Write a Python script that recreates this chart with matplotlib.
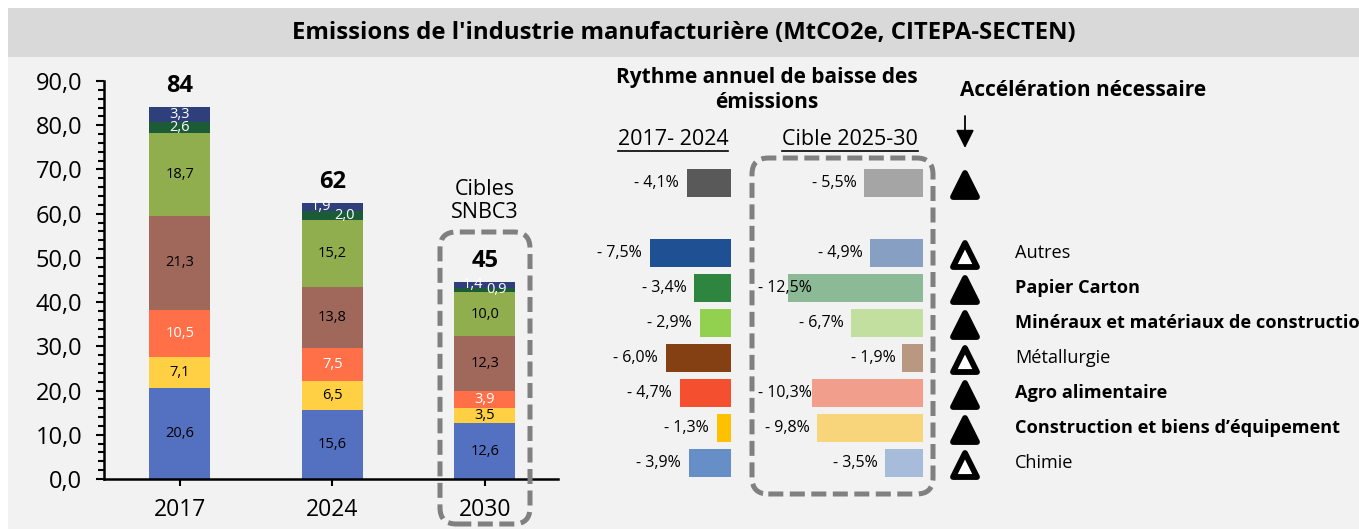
import matplotlib
matplotlib.use("Agg")
import matplotlib.pyplot as plt
from matplotlib.patches import Rectangle, FancyBboxPatch
from matplotlib.markers import MarkerStyle
from matplotlib.lines import Line2D
from matplotlib.ticker import MultipleLocator

plt.rcParams['font.family'] = ['Open Sans', 'DejaVu Sans']

W, H = 1359, 529

# --- stacked bars (MtCO2e) ---
years = ["2017", "2024", "2030"]
chimie = [20.6, 15.6, 12.6]
construction = [7.1, 6.5, 3.5]
agro = [10.5, 7.5, 3.9]
metallurgie = [21.3, 13.8, 12.3]
mineraux = [18.7, 15.2, 10.0]
papier = [2.6, 2.0, 0.9]
autres = [3.3, 1.9, 1.4]
totals = ["84", "62", "45"]
yticks = [0, 10, 20, 30, 40, 50, 60, 70, 80, 90]
ytick_labels = ["0,0", "10,0", "20,0", "30,0", "40,0", "50,0", "60,0", "70,0", "80,0", "90,0"]

stack = [chimie, construction, agro, metallurgie, mineraux, papier, autres]
stack_colors = ["#5470C0", "#FFD043", "#FF7049", "#A0685A", "#91AE4F", "#1B5C37", "#2E3F7B"]
stack_text = ["black", "black", "white", "black", "black", "white", "white"]

# --- annual rates of decrease (%), rows top to bottom ---
row_names = ["", "Autres", "Papier Carton", "Minéraux et matériaux de construction",
             "Métallurgie", "Agro alimentaire", "Construction et biens d’équipement", "Chimie"]
rate_2017_2024 = [4.1, 7.5, 3.4, 2.9, 6.0, 4.7, 1.3, 3.9]
rate_2025_2030 = [5.5, 4.9, 12.5, 6.7, 1.9, 10.3, 9.8, 3.5]
acceleration = [True, False, True, True, False, True, True, False]
row_pos = [0, 2, 3, 4, 5, 6, 7, 8]
colors_past = ["#595959", "#1F5093", "#2E8540", "#92D050", "#843F12", "#F4502F", "#FFC000", "#658FC6"]
colors_target = ["#A5A5A5", "#869FC3", "#8DBA96", "#C2DF9F", "#B89880", "#F29E8C", "#F8D57A", "#A7BCDB"]


def frac(x0, y0, x1, y1):
    # pixel box (top-left origin) -> figure fraction [l, b, w, h]
    return [x0 / W, 1 - y1 / H, (x1 - x0) / W, (y1 - y0) / H]


def fmt(v):
    return f"{v:.1f}".replace(".", ",")


fig = plt.figure(figsize=(W / 100, H / 100), dpi=100, facecolor="white")

# background panels
fig.patches.append(Rectangle((8 / W, 0), 1, 1 - 57 / H, transform=fig.transFigure,
                             facecolor="#F2F2F2", edgecolor="none", zorder=-2))
fig.patches.append(Rectangle((8 / W, 1 - 57 / H), 1, 49 / H, transform=fig.transFigure,
                             facecolor="#D9D9D9", edgecolor="none", zorder=-2))
fig.text(0.5 * (8 + W) / W, 1 - 33 / H,
         "Emissions de l'industrie manufacturière (MtCO2e, CITEPA-SECTEN)",
         ha="center", va="center", fontsize=17.2, fontweight="bold")

# ---------------- left : stacked bars ----------------
ax = fig.add_axes(frac(104, 81, 558, 479))
ax.set_facecolor("none")
x = list(range(len(years)))
bottom = [0.0] * len(years)
for k, (vals, col, tcol) in enumerate(zip(stack, stack_colors, stack_text)):
    ax.bar(x, vals, bottom=bottom, width=0.4, color=col, edgecolor="none", zorder=2)
    for i, v in enumerate(vals):
        dx = 0
        if v < 2.5 and k >= 5:
            dx = -12 if k == 6 else 12
        ax.annotate(fmt(v), (x[i], bottom[i] + v / 2), xytext=(dx, 0),
                    textcoords="offset pixels", ha="center", va="center",
                    fontsize=10.5, color=tcol, zorder=3)
    bottom = [b + v for b, v in zip(bottom, vals)]

for i, t in enumerate(totals):
    ax.annotate(t, (x[i], bottom[i]), xytext=(0, 21), textcoords="offset pixels",
                ha="center", va="center", fontsize=17, fontweight="bold")
ax.text(x[2], 62.8, "Cibles\nSNBC3", ha="center", va="center", fontsize=15.5,
        linespacing=1.15)

ax.set_xlim(-0.498, 2.479)
ax.set_ylim(0, 90)
ax.set_yticks(yticks)
ax.set_yticklabels(ytick_labels, fontsize=17)
ax.yaxis.set_minor_locator(MultipleLocator(2))
ax.set_xticks(x)
ax.set_xticklabels(years, fontsize=16.5)
ax.tick_params(axis="y", which="major", length=5.5, width=1.5, pad=10)
ax.tick_params(axis="y", which="minor", length=4, width=1.5)
ax.tick_params(axis="x", length=5, width=1.5, pad=9)
for s in ["top", "right"]:
    ax.spines[s].set_visible(False)
for s in ["left", "bottom"]:
    ax.spines[s].set_linewidth(1.8)

# ---------------- right : rates ----------------
px = 10.8            # pixels per percentage point
x0 = 560
anchor_px = 731
axr = fig.add_axes(frac(x0, 60, W, H))
axr.set_facecolor("none")
axr.set_xlim(-(anchor_px - x0) / px, (W - anchor_px) / px)
axr.set_ylim((H - 183) / 35, (60 - 183) / 35)
axr.axis("off")

R = (923 - anchor_px) / px      # anchor of the target bars
T = (965 - anchor_px) / px      # triangles
L = (1015 - anchor_px) / px     # sector names

axr.barh(row_pos, [-v for v in rate_2017_2024], left=0, height=0.8,
         color=colors_past, edgecolor="none")
axr.barh(row_pos, rate_2025_2030, left=[R - v for v in rate_2025_2030], height=0.8,
         color=colors_target, edgecolor="none")

for y, v in zip(row_pos, rate_2017_2024):
    axr.annotate(f"- {fmt(v)}%", (-v, y), xytext=(-8, 0), textcoords="offset pixels",
                 ha="right", va="center", fontsize=11.5)
for y, v in zip(row_pos, rate_2025_2030):
    if v >= 10:
        axr.text(R - 15.3, y, f"- {fmt(v)}%", ha="left", va="center", fontsize=11.5)
    else:
        axr.annotate(f"- {fmt(v)}%", (R - v, y), xytext=(-7, 0), textcoords="offset pixels",
                     ha="right", va="center", fontsize=11.5)

for y, acc, name in zip(row_pos, acceleration, row_names):
    m = MarkerStyle("^", joinstyle="round")
    axr.plot([T], [y + 0.05], marker=m, markersize=17, markeredgewidth=4.2,
             markeredgecolor="black", markerfacecolor="black" if acc else "white",
             linestyle="none", clip_on=False)
    if name:
        axr.text(L, y, name, ha="left", va="center", fontsize=13.1,
                 fontweight="bold" if acc else "normal", clip_on=False)

axr.annotate("", xy=(T, (148 - 183) / 35), xytext=(T, (116 - 183) / 35),
             arrowprops=dict(arrowstyle="-|>,head_length=1.1,head_width=0.55",
                             lw=1.3, color="black", shrinkA=0, shrinkB=0))

fig.text(767 / W, 1 - 90 / H, "Rythme annuel de baisse des\némissions", ha="center",
         va="center", fontsize=15, fontweight="bold", linespacing=1.2)
fig.text(1083 / W, 1 - 90 / H, "Accélération nécessaire", ha="center", va="center",
         fontsize=15, fontweight="bold")
h1 = fig.text(673 / W, 1 - 139 / H, "2017- 2024", ha="center", va="center", fontsize=15.5)
h2 = fig.text(850 / W, 1 - 139 / H, "Cible 2025-30", ha="center", va="center", fontsize=15.5)

# dashed rounded frames
for (bx0, by0, bx1, by1) in [(440, 232, 530, 524), (752, 158, 933, 494)]:
    l, b, w, h = frac(bx0, by0, bx1, by1)
    fig.patches.append(FancyBboxPatch((l, b), w, h, transform=fig.transFigure,
                                      boxstyle="round,pad=0,rounding_size=0.012",
                                      mutation_aspect=W / H, facecolor="none",
                                      edgecolor="#808080", linewidth=3.6,
                                      linestyle=(0, (3, 1.3)), zorder=5))

# underline the period headers
fig.canvas.draw()
inv = fig.transFigure.inverted()
for t in (h1, h2):
    bb = t.get_window_extent().transformed(inv)
    fig.lines.append(Line2D([bb.x0, bb.x1], [1 - 151 / H, 1 - 151 / H],
                            transform=fig.transFigure, color="black", lw=1.2))

fig.savefig("out.png", dpi=100, facecolor=fig.get_facecolor())
